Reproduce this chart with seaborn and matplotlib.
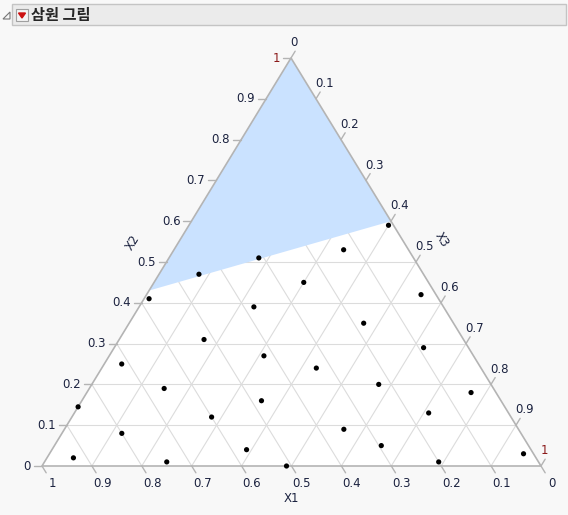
import numpy as np
import matplotlib
matplotlib.use("Agg")
import matplotlib.pyplot as plt
from matplotlib.patches import Polygon, Rectangle
import seaborn as sns

# ── Data (compositions) ──────────────────────────────────────────────────────
X2 = [0.59, 0.53, 0.51, 0.47, 0.45, 0.41, 0.42, 0.39, 0.35, 0.31,
      0.29, 0.25, 0.27, 0.24, 0.19, 0.20, 0.18, 0.16, 0.145, 0.13,
      0.12, 0.08, 0.09, 0.05, 0.04, 0.02, 0.01, 0.0, 0.01, 0.03]
X3 = [0.40, 0.34, 0.18, 0.08, 0.30, 0.01, 0.55, 0.23, 0.47, 0.17,
      0.62, 0.035, 0.31, 0.43, 0.15, 0.575, 0.77, 0.36, 0.0, 0.71,
      0.28, 0.12, 0.56, 0.655, 0.39, 0.053, 0.245, 0.49, 0.79, 0.95]
REGION_X2 = [1.0, 0.43, 0.60]     # shaded constraint region (X2, X3)
REGION_X3 = [0.0, 0.0, 0.40]
TICKS = [0, 0.1, 0.2, 0.3, 0.4, 0.5, 0.6, 0.7, 0.8, 0.9, 1]

# ── Triangle geometry (canvas pixels) ────────────────────────────────────────
BL = np.array([42.0, 466.0])
BR = np.array([541.0, 466.0])
TOP = np.array([291.0, 58.0])


def to_xy(x2, x3):
    x2 = np.asarray(x2, float)
    x3 = np.asarray(x3, float)
    x1 = 1 - x2 - x3
    p = np.outer(x1, BL) + np.outer(x2, TOP) + np.outer(x3, BR)
    return p[:, 0], p[:, 1]


def unit(v):
    v = np.asarray(v, float)
    return v / np.hypot(*v)


LABEL_C = "#1c2340"
RED = "#8b1a1a"
GRID = "#dcdcdc"
EDGE = "#b4b4b4"

sns.set_style("white")
fig = plt.figure(figsize=(5.68, 5.15), dpi=100, facecolor="#f8f8f8")
ax = fig.add_axes([0, 0, 1, 1])
ax.set_xlim(0, 568)
ax.set_ylim(515, 0)
ax.axis("off")

# header bar
ax.add_patch(Rectangle((12, 4), 554, 21, facecolor="#ebebeb", edgecolor="#c4c4c4", lw=1))
ax.add_patch(Polygon([[3, 19], [10, 12], [10, 19]], closed=True, facecolor="none",
                     edgecolor="#777777", lw=0.8))
ax.add_patch(Rectangle((16, 9), 12, 12, facecolor="#f4f4f4", edgecolor="#a0a0a0", lw=0.8))
ax.add_patch(Polygon([[18.5, 13], [25.5, 13], [22, 18]], closed=True, color="#cc1111"))
ax.text(31, 15, "삼원 그림", fontsize=11, fontweight="bold", va="center", ha="left",
        family=["Noto Sans CJK KR", "DejaVu Sans"])

# triangle
ax.add_patch(Polygon([BL, BR, TOP], closed=True, facecolor="white", edgecolor="none", zorder=0))

# grid lines
for v in TICKS[1:-1]:
    x, y = to_xy([0, 1 - v], [1 - v, 0])      # constant X1
    ax.plot(x, y, color=GRID, lw=0.8, zorder=1)
    x, y = to_xy([v, v], [0, 1 - v])          # constant X2
    ax.plot(x, y, color=GRID, lw=0.8, zorder=1)
    x, y = to_xy([0, 1 - v], [v, v])          # constant X3
    ax.plot(x, y, color=GRID, lw=0.8, zorder=1)

rx, ry = to_xy(REGION_X2, REGION_X3)
ax.add_patch(Polygon(np.c_[rx, ry], closed=True, facecolor="#cae2ff", edgecolor="none", zorder=2))

ax.add_patch(Polygon([BL, BR, TOP], closed=True, facecolor="none", edgecolor=EDGE, lw=1.2, zorder=3))

# ticks and tick labels
d1 = unit(BR - TOP)       # constant-X1 direction (bottom edge)
d2 = np.array([-1.0, 0])  # constant-X2 direction (left edge)
d3 = unit(TOP - BL)       # constant-X3 direction (right edge)
fs = 8.5
for v in TICKS:
    lab = "0" if v == 0 else ("1" if v == 1 else f"{v:.1f}")
    p = np.array(to_xy([0], [1 - v])).ravel()
    q = p + d1 * 8
    ax.plot([p[0], q[0]], [p[1], q[1]], color=EDGE, lw=1, zorder=3)
    t = p + d1 * 20
    ax.text(t[0], t[1], lab, fontsize=fs, color=LABEL_C, ha="center", va="center")

    p = np.array(to_xy([v], [0])).ravel()
    q = p + d2 * 8
    ax.plot([p[0], q[0]], [p[1], q[1]], color=EDGE, lw=1, zorder=3)
    ax.text(p[0] - 11, p[1], lab, fontsize=fs, color=RED if v == 1 else LABEL_C,
            ha="right", va="center")

    p = np.array(to_xy([1 - v], [v])).ravel()
    q = p + d3 * 8
    ax.plot([p[0], q[0]], [p[1], q[1]], color=EDGE, lw=1, zorder=3)
    t = p + d3 * 18 + np.array([-10, 0])
    ax.text(t[0], t[1], lab, fontsize=fs, color=RED if v == 1 else LABEL_C,
            ha="left", va="center")

# axis titles
ang = np.degrees(np.arctan2(408, 250))
ax.text(291, 499, "X1", fontsize=fs, color=LABEL_C, ha="center", va="center")
ax.text(133, 243, "X2", fontsize=fs, color=LABEL_C, ha="center", va="center", rotation=ang)
ax.text(442, 240, "X3", fontsize=fs, color=LABEL_C, ha="center", va="center", rotation=-ang)

# points
px, py = to_xy(X2, X3)
sns.scatterplot(x=px, y=py, ax=ax, color="black", s=14, edgecolor="none", zorder=5)

fig.savefig("out.png", dpi=100, facecolor=fig.get_facecolor())
